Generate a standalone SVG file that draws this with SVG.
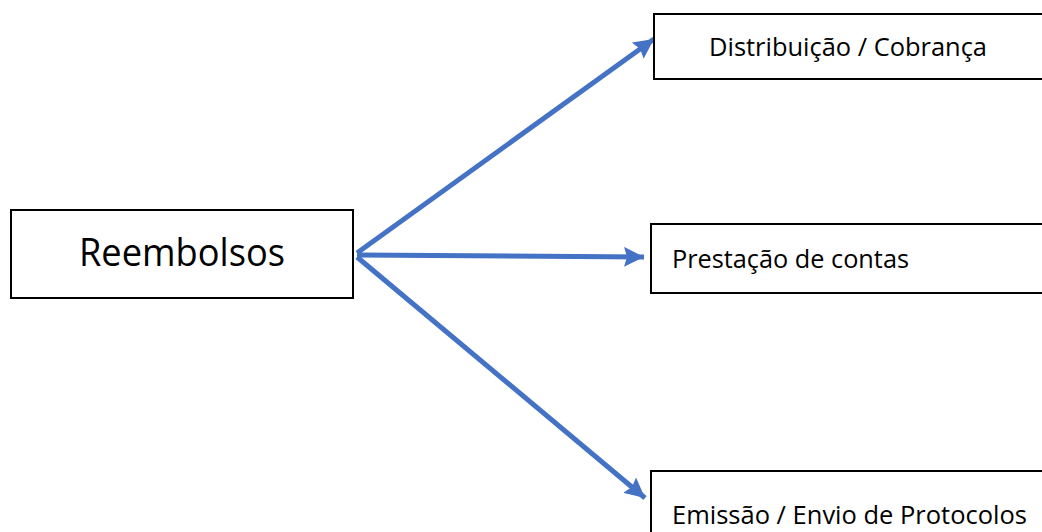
<svg xmlns="http://www.w3.org/2000/svg" width="1042" height="532" viewBox="0 0 1042 532">
  <style>
    .box { fill: #ffffff; stroke: #000000; stroke-width: 2; }
    .lbl { font-family: "Open Sans", "Noto Sans", "Liberation Sans", sans-serif; fill: #000000; }
    .big { font-size: 38px; }
    .small { font-size: 25px; }
    .arrow { stroke: #4472C4; stroke-width: 5; fill: none; marker-end: url(#head); }
  </style>
  <defs>
    <marker id="head" markerUnits="userSpaceOnUse" markerWidth="22" markerHeight="20" refX="20" refY="10" orient="auto">
      <path d="M0,0 L20,10 L0,20 L3,10 Z" fill="#4472C4"/>
    </marker>
  </defs>
  <rect width="1042" height="532" fill="#ffffff"/>

  <g id="connectors">
    <line class="arrow" x1="357" y1="253" x2="654" y2="39"/>
    <line class="arrow" x1="357" y1="255" x2="644" y2="257"/>
    <line class="arrow" x1="357" y1="257" x2="645" y2="498"/>
  </g>

  <g id="reembolsos">
    <rect class="box" x="11" y="210" width="342" height="88"/>
    <text class="lbl big" x="79" y="266" textLength="206" lengthAdjust="spacingAndGlyphs">Reembolsos</text>
  </g>

  <g id="distribuicao">
    <rect class="box" x="654" y="14" width="400" height="65"/>
    <text class="lbl small" x="709" y="56" textLength="278" lengthAdjust="spacingAndGlyphs">Distribuição / Cobrança</text>
  </g>

  <g id="prestacao">
    <rect class="box" x="651" y="224" width="400" height="69"/>
    <text class="lbl small" x="672" y="268" textLength="237" lengthAdjust="spacingAndGlyphs">Prestação de contas</text>
  </g>

  <g id="emissao">
    <rect class="box" x="651" y="471" width="400" height="80"/>
    <text class="lbl small" x="672" y="524" textLength="355" lengthAdjust="spacingAndGlyphs">Emissão / Envio de Protocolos</text>
  </g>
</svg>
